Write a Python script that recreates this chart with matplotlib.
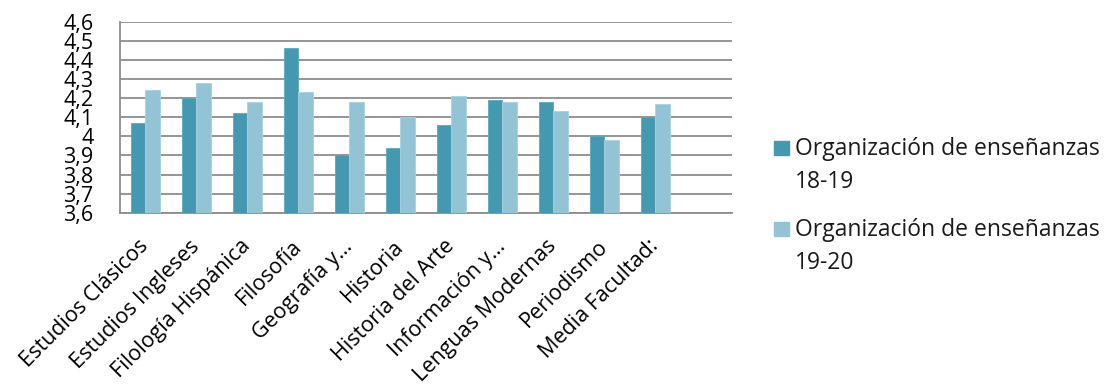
import numpy as np
import matplotlib
matplotlib.use("Agg")
import matplotlib.pyplot as plt
from matplotlib.patches import Rectangle
from matplotlib.transforms import ScaledTranslation

categorias = ['Estudios Clásicos', 'Estudios Ingleses', 'Filología Hispánica', 'Filosofía',
              'Geografía y…', 'Historia', 'Historia del Arte', 'Información y…',
              'Lenguas Modernas', 'Periodismo', 'Media Facultad:', '']
serie_1819 = [4.07, 4.20, 4.12, 4.46, 3.90, 3.94, 4.06, 4.19, 4.18, 4.00, 4.10, np.nan]
serie_1920 = [4.24, 4.28, 4.18, 4.23, 4.18, 4.10, 4.21, 4.18, 4.13, 3.98, 4.17, np.nan]
nombres = ['Organización de enseñanzas 18-19', 'Organización de enseñanzas 19-20']
yticks = np.round(np.arange(3.6, 4.61, 0.1), 1)

col_oscuro = '#4499B0'
col_claro = '#93C4D5'
gris = '#8C8C8C'

plt.rcParams['font.family'] = ['Open Sans', 'DejaVu Sans']

fig = plt.figure(figsize=(11.05, 3.9), dpi=100)
ax = fig.add_axes([120 / 1105, 1 - 212.7 / 390, (731.7 - 120) / 1105, (212.7 - 21.7) / 390])

x = np.arange(len(categorias))
w = 0.28
ax.bar(x - w / 2, serie_1819, w, color=col_oscuro, edgecolor='#5AA8BE', linewidth=0.6, zorder=3)
ax.bar(x + w / 2, serie_1920, w, color=col_claro, edgecolor='#A6D2E0', linewidth=0.6, zorder=3)

ax.set_xlim(-0.5, len(categorias) - 0.5)
ax.set_ylim(3.6, 4.6)
ax.set_yticks(yticks)
ax.set_yticklabels([('%g' % v).replace('.', ',') for v in yticks], fontsize=15.5)
ax.tick_params(axis='y', length=0, pad=19)
ax.grid(True, axis='y', color=gris, linewidth=1.3, zorder=0)
ax.set_axisbelow(True)

ax.set_xticks(x)
ax.set_xticklabels(categorias, fontsize=15.5, rotation=45, ha='right', va='center',
                   rotation_mode='anchor')
ax.tick_params(axis='x', length=0, pad=22)
off = ScaledTranslation(0.0, 0, fig.dpi_scale_trans)
for lab in ax.get_xticklabels():
    lab.set_transform(lab.get_transform() + off)

for s in ['top', 'right']:
    ax.spines[s].set_visible(False)
for s in ['left', 'bottom']:
    ax.spines[s].set_color(gris)
    ax.spines[s].set_linewidth(1.3)

# leyenda a mano, con el cuadrado alineado a la primera linea
for i, (nombre, col) in enumerate(zip(nombres, [col_oscuro, col_claro])):
    y0 = 155 + i * 81
    fig.patches.append(Rectangle((774 / 1105, 1 - y0 / 390), 15 / 1105, 14 / 390,
                                 transform=fig.transFigure, color=col))
    l1, l2 = nombre.rsplit(' ', 1)
    fig.text(795 / 1105, 1 - y0 / 390, l1, fontsize=16.5, va='baseline', color='#1a1a1a')
    fig.text(795 / 1105, 1 - (y0 + 33) / 390, l2, fontsize=16.5, va='baseline', color='#1a1a1a')

fig.savefig('out.png', dpi=100)
